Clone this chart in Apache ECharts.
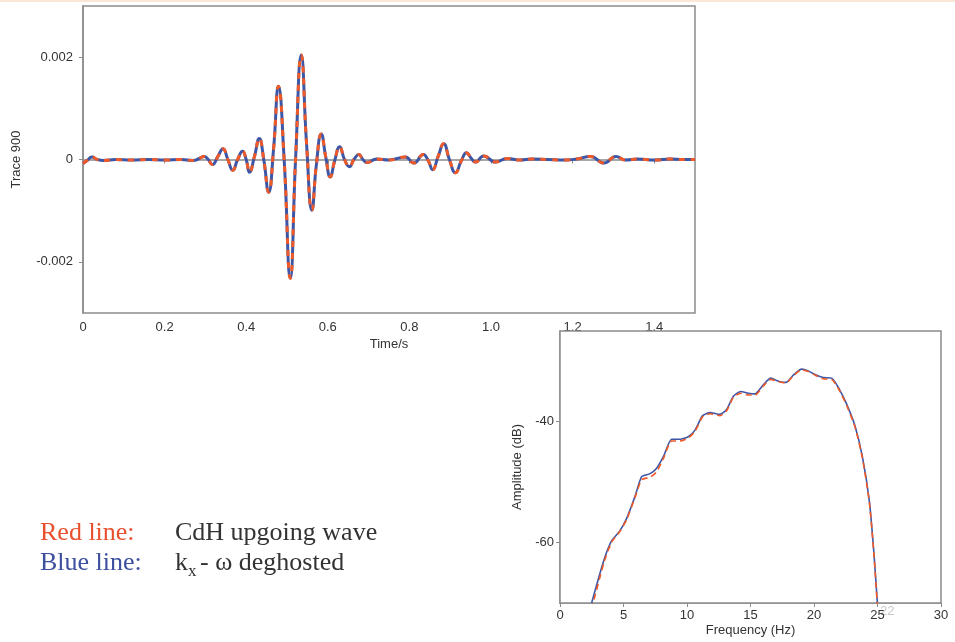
<!DOCTYPE html>
<html>
<head>
<meta charset="utf-8">
<script src="https://cdn.jsdelivr.net/npm/echarts@6/dist/echarts.min.js"></script>
<style>
  html, body { margin: 0; padding: 0; background: #fff; }
  #main { width: 955px; height: 642px; }
</style>
</head>
<body>
<div id="main"></div>
<script>
var chartDom = document.getElementById('main');
var myChart = echarts.init(chartDom);
var option;

// trace 900, time in s, amplitude (both curves overlap)
let traceTime = [0.000, 0.010, 0.022, 0.035, 0.050, 0.080, 0.120, 0.160, 0.200, 0.240, 0.270, 0.285,
  0.297, 0.307, 0.317, 0.330, 0.343, 0.355, 0.367, 0.379, 0.391, 0.400, 0.408, 0.420, 0.432, 0.443,
  0.455, 0.467, 0.479, 0.493, 0.508, 0.521, 0.535, 0.548, 0.561, 0.572, 0.584, 0.595, 0.606, 0.617,
  0.629, 0.641, 0.653, 0.664, 0.676, 0.686, 0.696, 0.720, 0.750, 0.790, 0.811, 0.834, 0.846, 0.857,
  0.870, 0.884, 0.898, 0.913, 0.927, 0.940, 0.951, 0.962, 0.982, 1.011, 1.040, 1.070, 1.100, 1.140,
  1.180, 1.210, 1.244, 1.277, 1.306, 1.330, 1.360, 1.400, 1.440, 1.470, 1.500];
let traceValue = [-0.00008, -0.00002, 0.00005, 0.0, -0.00002, 0.0, -0.00001, 0.0, -0.00001, 0.0, -0.00002, 0.00002,
  0.00006, 0.0, -0.0001, 0.00005, 0.00021, 0.0, -0.00021, 0.0, 0.00016, 0.0, -0.00025, 0.00005, 0.00041, 0.0,
  -0.00064, 0.0002, 0.00143, 0.0, -0.00232, 0.0, 0.00204, 0.0003, -0.00099, -0.0001, 0.0005, 0.00005, -0.00034, -0.00002,
  0.00025, 0.0, -0.00014, 0.0, 0.0001, 0.0, -0.00006, 0.00001, -0.00001, 0.00005, -0.00007, 0.0001, -0.00002, -0.0002,
  0.00005, 0.00031, 0.0, -0.00026, -0.00003, 0.00013, 0.00003, -0.00005, 0.00007, -0.00005, 0.00002, -0.00001, 0.00001, 0.0,
  -0.00001, 0.00001, 0.00006, -0.00007, 0.00006, -0.00001, 0.00001, -0.00001, 0.00001, 0.0, 0.0];

// spectrum, frequency in Hz, amplitude in dB
let specFreq = [2.49, 3.46, 4.07, 4.67, 5.25, 5.90, 6.43, 7.09, 7.61, 8.14, 8.79, 9.45, 10.10, 10.63, 11.23, 11.81,
  12.60, 13.12, 13.65, 14.23, 14.83, 15.35, 16.01, 16.59, 17.19, 17.80, 18.37, 19.03, 19.55, 20.08, 20.73, 21.39,
  21.99, 22.57, 23.23, 23.81, 24.36, 24.72, 24.99];
let specDeghost = [-70.0, -62.9, -59.7, -58.2, -56.0, -52.4, -49.1, -48.6, -47.7, -45.8, -42.9, -42.9, -42.5, -41.4, -39.0, -38.5,
  -38.8, -38.0, -35.8, -35.0, -35.3, -35.4, -33.9, -32.8, -33.3, -33.5, -32.3, -31.3, -31.6, -32.2, -32.7, -32.8,
  -34.6, -37.1, -40.7, -45.8, -53.2, -61.8, -70.0];
let specUpgoing = [-71.0, -63.3, -59.9, -58.3, -56.2, -52.6, -49.6, -49.2, -48.3, -46.1, -43.2, -43.2, -42.7, -41.6, -39.2, -38.7,
  -39.0, -38.2, -36.0, -35.3, -35.6, -35.6, -34.1, -33.0, -33.4, -33.6, -32.4, -31.4, -31.7, -32.3, -32.9, -33.0,
  -34.8, -37.3, -40.9, -46.0, -53.4, -62.0, -70.5];

let traceTicks = [0, 0.2, 0.4, 0.6, 0.8, 1.0, 1.2, 1.4];
let traceYTicks = [-0.002, 0, 0.002];
let specYTicks = [-60, -40];

let blue = '#3e56a6';
let red = '#f05a28';
let axisGray = '#8c8c8c';
let labelFont = { fontFamily: 'Liberation Sans', fontSize: 13, color: '#333' };
let serif = '26px "Liberation Serif"';

function pairs(xs, ys) {
  let out = [];
  for (var i = 0; i < xs.length; i++) {
    out.push([xs[i], ys[i]]);
  }
  return out;
}

option = {
  animation: false,
  backgroundColor: '#fff',
  grid: [
    { left: 83, top: 6, right: 260, bottom: 329, show: true, borderColor: axisGray, borderWidth: 1.5 },
    { left: 560, top: 331, right: 14, bottom: 39, show: true, borderColor: axisGray, borderWidth: 1.5,
      backgroundColor: '#fff', z: 1 }
  ],
  xAxis: [
    {
      gridIndex: 0, type: 'value', min: 0, max: 1.5,
      name: 'Time/s', nameLocation: 'middle', nameGap: 25,
      nameTextStyle: labelFont,
      axisLine: { lineStyle: { color: axisGray, width: 1.5 } },
      axisTick: { length: 4, lineStyle: { color: axisGray }, customValues: traceTicks },
      axisLabel: Object.assign({ margin: 8, customValues: traceTicks,
        formatter: function (v) { return v === 0 ? '0' : v.toFixed(1); } }, labelFont),
      splitLine: { show: false }
    },
    {
      gridIndex: 1, type: 'value', min: 0, max: 30, interval: 5,
      name: 'Frequency (Hz)', nameLocation: 'middle', nameGap: 21,
      nameTextStyle: labelFont,
      axisLine: { lineStyle: { color: axisGray, width: 1.5 } },
      axisTick: { length: 4, lineStyle: { color: axisGray } },
      axisLabel: Object.assign({ margin: 6 }, labelFont),
      splitLine: { show: false }
    }
  ],
  yAxis: [
    {
      gridIndex: 0, type: 'value', min: -0.003, max: 0.003,
      name: 'Trace 900', nameLocation: 'middle', nameGap: 60,
      nameTextStyle: labelFont,
      axisLine: { lineStyle: { color: axisGray, width: 1.5 } },
      axisTick: { length: 4, lineStyle: { color: axisGray }, customValues: traceYTicks },
      axisLabel: Object.assign({ margin: 10, customValues: traceYTicks,
        formatter: function (v) { return v === 0 ? '0' : v.toFixed(3); } }, labelFont),
      splitLine: { show: false }
    },
    {
      gridIndex: 1, type: 'value', min: -70, max: -25,
      name: 'Amplitude (dB)', nameLocation: 'middle', nameGap: 36,
      nameTextStyle: labelFont,
      axisLine: { lineStyle: { color: axisGray, width: 1.5 } },
      axisTick: { length: 4, lineStyle: { color: axisGray }, customValues: specYTicks },
      axisLabel: Object.assign({ margin: 6, customValues: specYTicks }, labelFont),
      splitLine: { show: false }
    }
  ],
  series: [
    {
      name: 'kx-w deghosted', type: 'line', xAxisIndex: 0, yAxisIndex: 0,
      data: pairs(traceTime, traceValue), showSymbol: false, smooth: 0.5,
      lineStyle: { color: blue, width: 3 }, z: 3
    },
    {
      name: 'CdH upgoing', type: 'line', xAxisIndex: 0, yAxisIndex: 0,
      data: pairs(traceTime, traceValue), showSymbol: false, smooth: 0.5,
      lineStyle: { color: red, width: 3, type: [6, 6] }, z: 4
    },
    {
      name: 'kx-w deghosted spec', type: 'line', xAxisIndex: 1, yAxisIndex: 1,
      data: pairs(specFreq, specDeghost), showSymbol: false, smooth: 0.2,
      lineStyle: { color: blue, width: 1.6 }, z: 3
    },
    {
      name: 'CdH upgoing spec', type: 'line', xAxisIndex: 1, yAxisIndex: 1,
      data: pairs(specFreq, specUpgoing), showSymbol: false, smooth: 0.2,
      lineStyle: { color: red, width: 1.6, type: [6, 4] }, z: 4
    }
  ],
  graphic: [
    { type: 'rect', shape: { x: 0, y: 0, width: 955, height: 2 }, style: { fill: '#fbe6da' }, silent: true },
    { type: 'text', left: 40, top: 520, style: { text: 'Red line:', fill: '#e8502e', font: serif } },
    { type: 'text', left: 40, top: 550, style: { text: 'Blue line:', fill: '#3d4f9f', font: serif } },
    { type: 'text', left: 175, top: 520, style: { text: 'CdH upgoing wave', fill: '#333', font: serif } },
    { type: 'text', left: 175, top: 550, style: { text: 'k', fill: '#333', font: serif } },
    { type: 'text', left: 188, top: 563, style: { text: 'x', fill: '#333', font: '17px "Liberation Serif"' } },
    { type: 'text', left: 200, top: 550, style: { text: '- \u03c9 deghosted', fill: '#333', font: serif } },
    { type: 'text', left: 880, top: 605, style: { text: '22', fill: '#c8c8c8', font: '13px "Liberation Sans"' } }
  ]
};

option && myChart.setOption(option);
</script>
</body>
</html>
